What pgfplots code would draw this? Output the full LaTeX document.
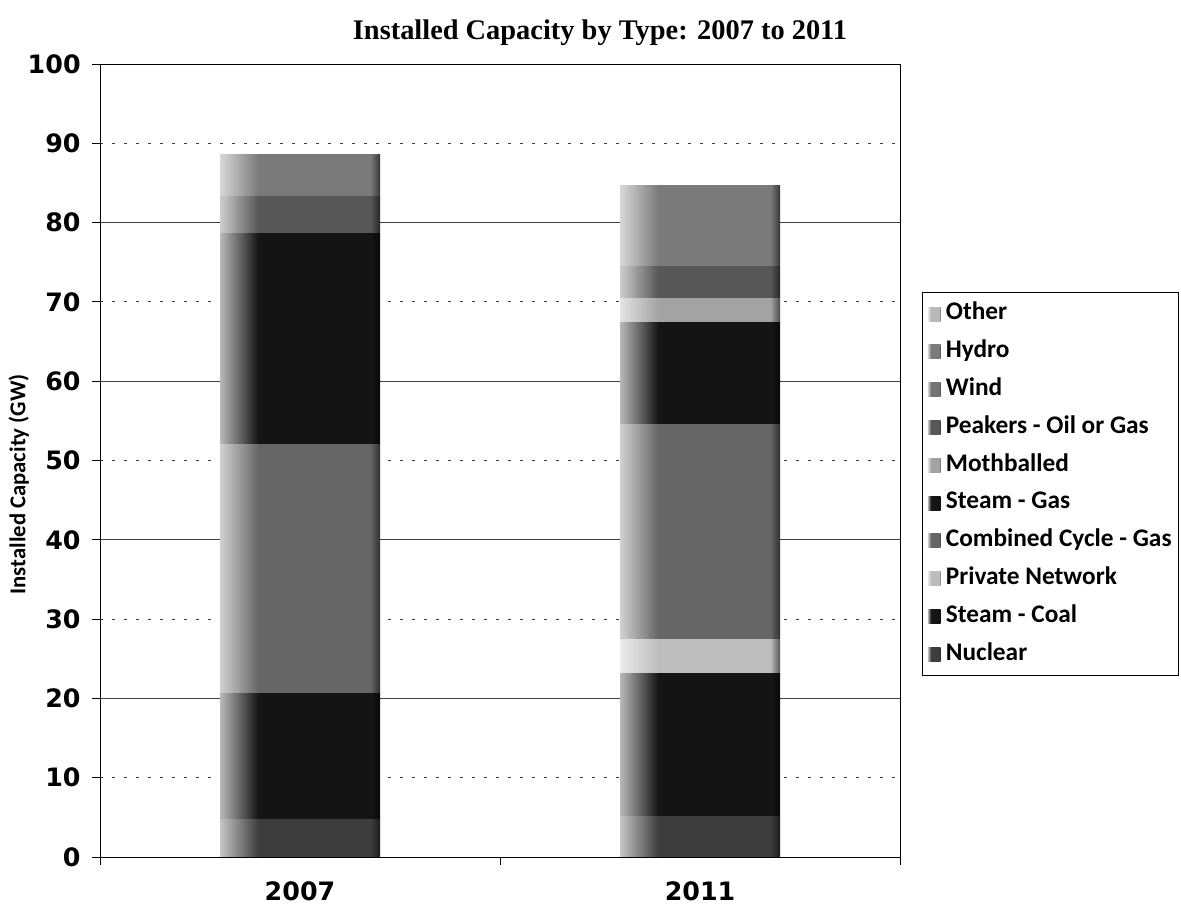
\documentclass[border=0pt]{standalone}
\usepackage{pgfplots}
\pgfplotsset{compat=1.18}
\usepackage{fontspec}
\setmainfont{Carlito}
\newfontfamily\titlefont{Liberation Serif}
\newfontfamily\tickfont{DejaVu Sans}

% grey tones of the ten generation types
\definecolor{cNuc}{gray}{0.24}
\definecolor{cCoal}{gray}{0.08}
\definecolor{cPriv}{gray}{0.74}
\definecolor{cCC}{gray}{0.40}
\definecolor{cSG}{gray}{0.08}
\definecolor{cMoth}{gray}{0.64}
\definecolor{cPeak}{gray}{0.34}
\definecolor{cWind}{gray}{0.45}
\definecolor{cHydro}{gray}{0.48}
\definecolor{cOther}{gray}{0.72}

% bars are lighter on the left edge and darker on the right edge
\newcommand\barshading[2]{%
  \pgfdeclarehorizontalshading{#1}{100bp}{color(0bp)=(#2!30!white); color(25bp)=(#2!30!white);
    color(37bp)=(#2); color(72bp)=(#2); color(75bp)=(#2!45!black); color(100bp)=(#2!45!black)}}
\barshading{shNuc}{cNuc}
\barshading{shCoal}{cCoal}
\barshading{shPriv}{cPriv}
\barshading{shCC}{cCC}
\barshading{shSG}{cSG}
\barshading{shMoth}{cMoth}
\barshading{shPeak}{cPeak}
\barshading{shWind}{cWind}
\barshading{shHydro}{cHydro}
\barshading{shOther}{cOther}

% geometry shared by both layers (one layer per year, so each bar gets its own shading)
\pgfplotsset{
  capframe/.style={
    scale only axis, width=600pt, height=594.75pt,
    ybar stacked, bar width=0.40,
    xmin=-0.5, xmax=1.5, ymin=0, ymax=100,
  },
  seg/.style={shade, shading=#1, draw=none},
}

\begin{document}
\begin{tikzpicture}
\begin{axis}[
  name=ax, capframe,
  axis line style={black, line width=0.7pt},
  % category boundaries carry the tick marks, the names sit under the bars
  xtick={-0.5,0.5,1.5}, xticklabels={},
  extra x ticks={0,1}, extra x tick labels={2007,2011},
  extra x tick style={major tick length=0pt, xticklabel style={yshift=-15pt}},
  xtick pos=bottom,
  ytick={0,20,...,100}, ytick pos=left,
  extra y ticks={10,30,50,70,90},
  extra y tick style={grid style={black!45, line width=0.6pt, dash pattern=on 2pt off 7pt}},
  ymajorgrids, major grid style={black!75, line width=0.6pt},
  tick align=outside, major tick length=6pt,
  tick style={black, line width=0.7pt},
  /pgf/number format/assume math mode=true,
  ticklabel style={font=\tickfont\bfseries\fontsize{19}{22}\selectfont},
  yticklabel style={xshift=-5pt},
  ylabel={Installed Capacity (GW)},
  ylabel style={at={(axis description cs:0,0.47)}, anchor=center, yshift=61pt,
    font=\bfseries\fontsize{17}{19}\selectfont},
  title={Installed Capacity by Type: 2007 to 2011},
  title style={at={(axis description cs:0.625,1)}, anchor=base, yshift=12.5pt,
    font=\titlefont\bfseries\fontsize{21.3}{24}\selectfont},
  reverse legend,
  legend cell align=left,
  legend style={at={(1.0275,0.7125)}, anchor=north west, draw=black, line width=0.8pt,
    font=\bfseries\fontsize{19}{21}\selectfont,
    nodes={inner sep=1.5pt, text height=13pt, text depth=4pt},
    row sep=8.35pt, inner xsep=4pt, inner ysep=6pt},
  legend image code/.code={\path[#1, draw=none] (1pt,-5.5pt) rectangle (10.5pt,5pt);
    \path (13pt,0pt);},
]
% 2007
\addplot[seg=shNuc]   coordinates {(0,4.7)};  \addlegendentry{Nuclear}
\addplot[seg=shCoal]  coordinates {(0,15.9)}; \addlegendentry{Steam - Coal}
\addplot[seg=shPriv]  coordinates {(0,0)};    \addlegendentry{Private Network}
\addplot[seg=shCC]    coordinates {(0,31.4)}; \addlegendentry{Combined Cycle - Gas}
\addplot[seg=shSG]    coordinates {(0,26.6)}; \addlegendentry{Steam - Gas}
\addplot[seg=shMoth]  coordinates {(0,0)};    \addlegendentry{Mothballed}
\addplot[seg=shPeak]  coordinates {(0,4.7)};  \addlegendentry{Peakers - Oil or Gas}
\addplot[seg=shWind]  coordinates {(0,0)};    \addlegendentry{Wind}
\addplot[seg=shHydro] coordinates {(0,5.3)};  \addlegendentry{Hydro}
\addplot[seg=shOther] coordinates {(0,0)};    \addlegendentry{Other}
\end{axis}
\begin{axis}[capframe, hide axis, at={(ax.south west)}, anchor=south west]
% 2011
\addplot[seg=shNuc]   coordinates {(1,5.1)};
\addplot[seg=shCoal]  coordinates {(1,18.0)};
\addplot[seg=shPriv]  coordinates {(1,4.3)};
\addplot[seg=shCC]    coordinates {(1,27.2)};
\addplot[seg=shSG]    coordinates {(1,12.8)};
\addplot[seg=shMoth]  coordinates {(1,3.0)};
\addplot[seg=shPeak]  coordinates {(1,4.1)};
\addplot[seg=shWind]  coordinates {(1,0)};
\addplot[seg=shHydro] coordinates {(1,10.2)};
\addplot[seg=shOther] coordinates {(1,0)};
\end{axis}
\pgfresetboundingbox
\path[use as bounding box] ([xshift=-75pt,yshift=-42pt]ax.south west)
  rectangle ([xshift=810.75pt,yshift=642.75pt]ax.south west);
\end{tikzpicture}
\end{document}
